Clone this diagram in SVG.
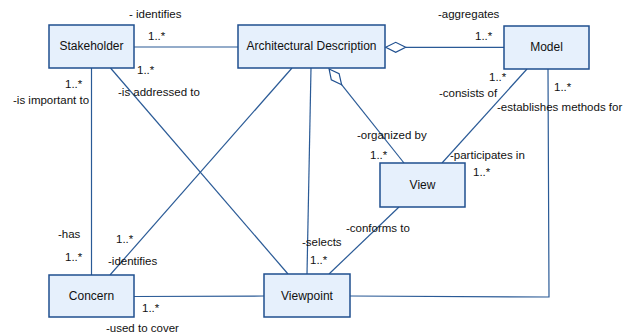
<svg xmlns="http://www.w3.org/2000/svg" width="636" height="336" viewBox="0 0 636 336">
<style>
.box{fill:#e6f0fc;stroke:#1f4f8f;stroke-width:1.5}
.ln{fill:none;stroke:#2a5a96;stroke-width:1.2}
.dia{fill:#ffffff;stroke:#1f4f8f;stroke-width:1.2}
text{font-family:"Liberation Sans",Arial,sans-serif;font-size:11.5px;fill:#111}
.nm{font-size:12px;text-anchor:middle}
</style>
<rect width="636" height="336" fill="#ffffff"/>
<g id="connectors">
<line class="ln" x1="134" y1="47" x2="238" y2="47"/>
<line class="ln" x1="91.5" y1="68" x2="91.5" y2="275"/>
<line class="ln" x1="110.5" y1="68" x2="288" y2="274"/>
<line class="ln" x1="292" y1="68" x2="110" y2="275"/>
<line class="ln" x1="311" y1="68" x2="307" y2="274"/>
<line class="ln" x1="405.7" y1="47.3" x2="504" y2="47.3"/>
<polygon class="dia" points="385.7,47.3 395.7,42.3 405.7,47.3 395.7,52.3"/>
<line class="ln" x1="341.6" y1="84.7" x2="404" y2="163"/>
<polygon class="dia" points="329.1,69 339.1,73.7 341.6,84.7 331.3,79.9"/>
<line class="ln" x1="527" y1="69" x2="442" y2="163"/>
<polyline class="ln" points="548,69 549,297 350,296"/>
<line class="ln" x1="399" y1="207" x2="329" y2="274"/>
<line class="ln" x1="134" y1="296.5" x2="264" y2="296"/>
</g>
<g id="stakeholder"><rect class="box" x="49" y="25" width="85" height="43"/><text class="nm" x="91.5" y="50">Stakeholder</text></g>
<g id="architectural-description"><rect class="box" x="238" y="25" width="147" height="43"/><text class="nm" x="311.5" y="50">Architectural Description</text></g>
<g id="model"><rect class="box" x="504" y="26" width="85" height="43"/><text class="nm" x="546.5" y="51">Model</text></g>
<g id="view"><rect class="box" x="380" y="163" width="85" height="44"/><text class="nm" x="422.5" y="189">View</text></g>
<g id="concern"><rect class="box" x="49" y="275" width="85" height="42"/><text class="nm" x="91.5" y="300">Concern</text></g>
<g id="viewpoint"><rect class="box" x="264" y="274" width="86" height="43"/><text class="nm" x="307" y="300">Viewpoint</text></g>
<g id="labels">
<text x="129" y="18">- identifies</text>
<text x="148" y="40">1..*</text>
<text x="137" y="74">1..*</text>
<text x="118" y="96">-is addressed to</text>
<text x="65" y="88">1..*</text>
<text x="13" y="104">-is important to</text>
<text x="438" y="18">-aggregates</text>
<text x="475" y="40">1..*</text>
<text x="489" y="81">1..*</text>
<text x="439" y="97">-consists of</text>
<text x="554" y="91">1..*</text>
<text x="497" y="111">-establishes methods for</text>
<text x="357" y="139">-organized by</text>
<text x="370" y="159">1..*</text>
<text x="450" y="159">-participates in</text>
<text x="473" y="176">1..*</text>
<text x="346" y="232">-conforms to</text>
<text x="302" y="246">-selects</text>
<text x="310" y="264">1..*</text>
<text x="58" y="238">-has</text>
<text x="65" y="261">1..*</text>
<text x="116" y="243">1..*</text>
<text x="108" y="265">-identifies</text>
<text x="142" y="312">1..*</text>
<text x="106" y="332">-used to cover</text>
</g>
</svg>
